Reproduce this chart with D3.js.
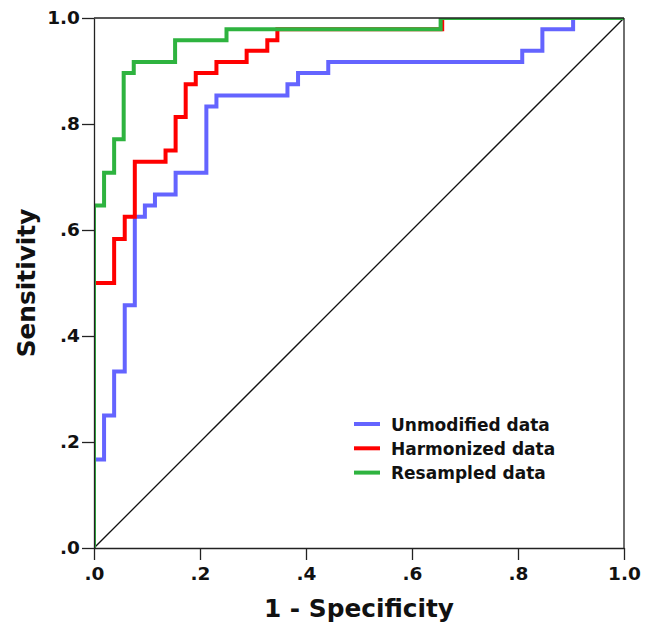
<!DOCTYPE html>
<html>
<head>
<meta charset="utf-8">
<script src="https://cdn.jsdelivr.net/npm/d3@7"></script>
<style>
  html, body { margin: 0; padding: 0; background: #fff; }
  svg { display: block; font-family: "DejaVu Sans", sans-serif; }
</style>
</head>
<body>
<svg id="chart" width="646" height="623"></svg>
<script>
// ---- data ----
const tickValues = [0, 0.2, 0.4, 0.6, 0.8, 1.0];
const tickLabels = [".0", ".2", ".4", ".6", ".8", "1.0"];

const seriesNames = ["Unmodified data", "Harmonized data", "Resampled data"];
const seriesColors = ["#6464ff", "#ff0000", "#2eb33f"];

const unmodifiedFpr = [0, 0, 0.019, 0.038, 0.058, 0.077, 0.096, 0.115, 0.154, 0.212, 0.231, 0.365, 0.385, 0.442, 0.808, 0.846, 0.904, 1];
const unmodifiedTpr = [0, 0.167, 0.25, 0.333, 0.458, 0.625, 0.646, 0.667, 0.708, 0.833, 0.854, 0.875, 0.896, 0.917, 0.938, 0.979, 1, 1];

const harmonizedFpr = [0, 0, 0.038, 0.058, 0.077, 0.135, 0.154, 0.173, 0.192, 0.231, 0.288, 0.327, 0.346, 0.657, 1];
const harmonizedTpr = [0, 0.5, 0.583, 0.625, 0.729, 0.75, 0.813, 0.875, 0.896, 0.917, 0.938, 0.958, 0.979, 1, 1];

const resampledFpr = [0, 0, 0.019, 0.038, 0.056, 0.075, 0.153, 0.25, 0.654, 1];
const resampledTpr = [0, 0.646, 0.708, 0.771, 0.896, 0.917, 0.958, 0.979, 1, 1];

const referenceLine = [[0, 0], [1, 1]];

// ---- layout ----
const svg = d3.select("#chart");
const pLeft = 94, pRight = 624, pTop = 18, pBottom = 548;

const x = d3.scaleLinear().domain([0, 1]).range([pLeft, pRight]);
const y = d3.scaleLinear().domain([0, 1]).range([pBottom, pTop]);

svg.append("defs").append("clipPath").attr("id", "plotclip")
  .append("rect").attr("x", pLeft).attr("y", pTop)
  .attr("width", pRight - pLeft).attr("height", pBottom - pTop);

const plot = svg.append("g").attr("clip-path", "url(#plotclip)");

// diagonal reference line
plot.append("path")
  .datum(referenceLine)
  .attr("d", d3.line().x(d => x(d[0])).y(d => y(d[1])))
  .attr("fill", "none").attr("stroke", "#111").attr("stroke-width", 1.3);

const series = [
  { fpr: unmodifiedFpr, tpr: unmodifiedTpr },
  { fpr: harmonizedFpr, tpr: harmonizedTpr },
  { fpr: resampledFpr, tpr: resampledTpr }
];

const stepLine = d3.line().x(d => x(d[0])).y(d => y(d[1])).curve(d3.curveStepAfter);

series.forEach((s, i) => {
  const pts = s.fpr.map((f, k) => [f, s.tpr[k]]);
  plot.append("path")
    .datum(pts)
    .attr("d", stepLine)
    .attr("fill", "none")
    .attr("stroke", seriesColors[i])
    .attr("stroke-width", 4)
    .attr("stroke-linejoin", "miter")
    .attr("stroke-linecap", "butt");
});

// frame (top and right)
svg.append("line").attr("x1", pLeft).attr("x2", pRight).attr("y1", pTop).attr("y2", pTop)
  .attr("stroke", "#222").attr("stroke-width", 1.3);
svg.append("line").attr("x1", pRight).attr("x2", pRight).attr("y1", pTop).attr("y2", pBottom)
  .attr("stroke", "#222").attr("stroke-width", 1.3);

// axes
const xAxis = d3.axisBottom(x).tickValues(tickValues)
  .tickFormat((d, i) => tickLabels[i]).tickSizeInner(12).tickSizeOuter(0).tickPadding(7);
const yAxis = d3.axisLeft(y).tickValues(tickValues)
  .tickFormat((d, i) => tickLabels[i]).tickSizeInner(12).tickSizeOuter(0).tickPadding(2);

const gx = svg.append("g").attr("transform", `translate(0,${pBottom})`).call(xAxis);
const gy = svg.append("g").attr("transform", `translate(${pLeft},0)`).call(yAxis);

[gx, gy].forEach(g => {
  g.select(".domain").attr("stroke", "#222").attr("stroke-width", 1.3);
  g.selectAll(".tick line").attr("stroke", "#222").attr("stroke-width", 1.3);
  g.selectAll(".tick text")
    .attr("fill", "#111")
    .style("font-family", "'DejaVu Sans', sans-serif")
    .style("font-weight", "bold")
    .style("font-size", "18.5px");
});

// axis titles
svg.append("text")
  .attr("x", (pLeft + pRight) / 2).attr("y", 617)
  .attr("text-anchor", "middle")
  .style("font-weight", "bold").style("font-size", "24.8px").attr("fill", "#111")
  .text("1 - Specificity");

svg.append("text")
  .attr("transform", `translate(35,${(pTop + pBottom) / 2}) rotate(-90)`)
  .attr("text-anchor", "middle")
  .style("font-weight", "bold").style("font-size", "24.8px").attr("fill", "#111")
  .text("Sensitivity");

// legend
const legend = svg.append("g").attr("transform", "translate(354,424)");
seriesNames.forEach((name, i) => {
  const g = legend.append("g").attr("transform", `translate(0,${i * 24.3})`);
  g.append("line").attr("x1", 0).attr("x2", 26).attr("y1", 0).attr("y2", 0)
    .attr("stroke", seriesColors[i]).attr("stroke-width", 4);
  g.append("text").attr("x", 37).attr("y", 6.5)
    .style("font-weight", "bold").style("font-size", "17px").attr("fill", "#111")
    .text(name);
});
</script>
</body>
</html>
